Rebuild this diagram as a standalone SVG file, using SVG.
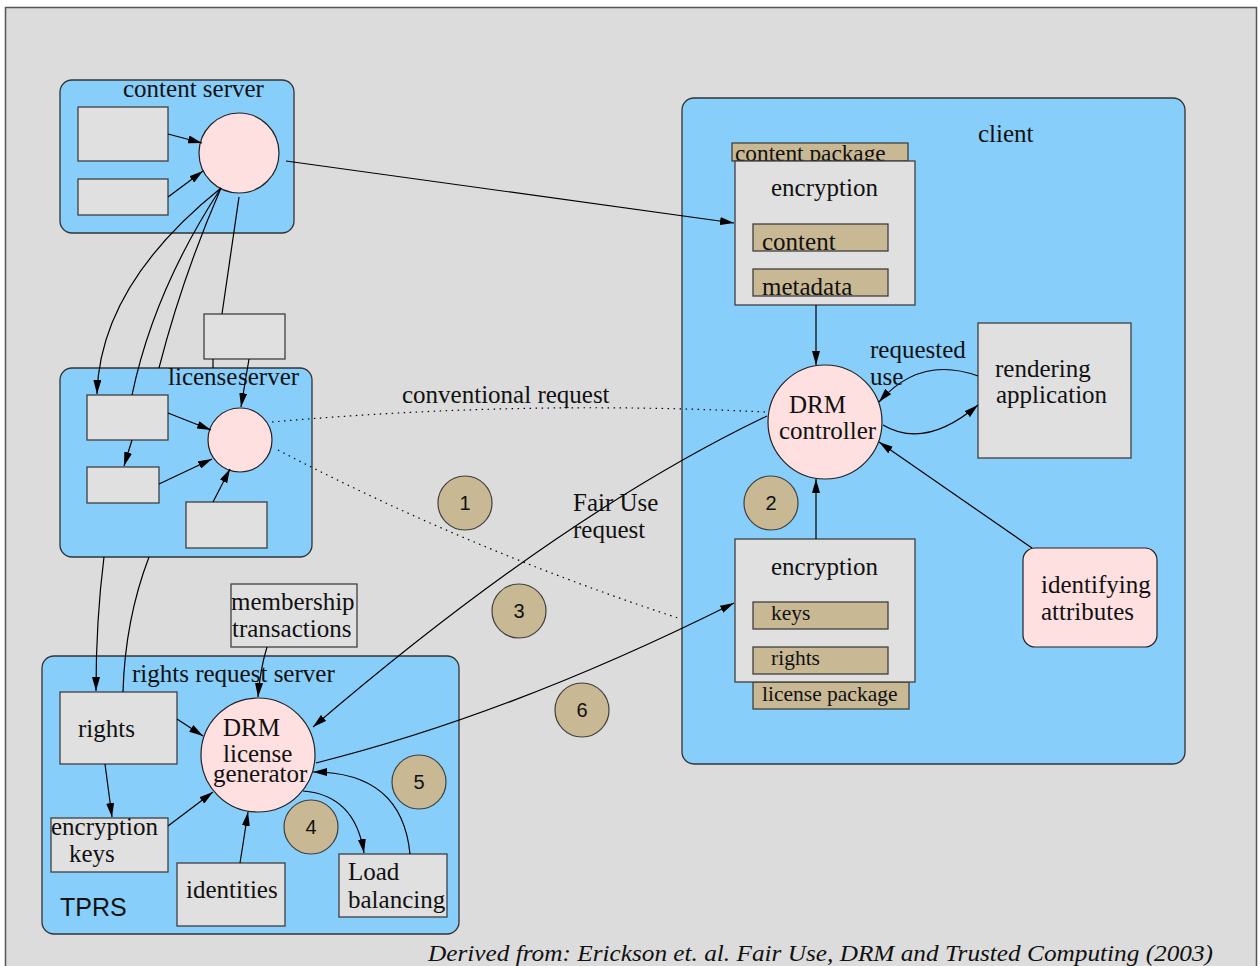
<svg xmlns="http://www.w3.org/2000/svg" width="1259" height="966" viewBox="0 0 1259 966">
  <defs>
    <marker id="ah" viewBox="0 0 14 8" refX="14" refY="4" markerWidth="14" markerHeight="8" orient="auto" markerUnits="userSpaceOnUse">
      <path d="M0,0 L14,4 L0,8 z" fill="#000"/>
    </marker>
    <style>
      .frame { fill: #dcdcdc; stroke: #555; stroke-width: 1.5; }
      .group { fill: #87cefa; stroke: #333; stroke-width: 1.3; }
      .box { fill: #e0e0e0; stroke: #404040; stroke-width: 1.3; }
      .tan { fill: #c8b894; stroke: #404040; stroke-width: 1.3; }
      .proc { fill: #ffe0e0; stroke: #222; stroke-width: 1.2; }
      .step { fill: #c8b894; stroke: #404040; stroke-width: 1.2; }
      .t { font-family: "Liberation Serif", serif; font-size: 25px; fill: #111; }
      .ts { font-family: "Liberation Serif", serif; font-size: 21.5px; fill: #111; }
      .n { font-family: "Liberation Sans", sans-serif; font-size: 20px; fill: #111; text-anchor: middle; }
      .sans { font-family: "Liberation Sans", sans-serif; font-size: 25px; fill: #111; }
      .c { fill: none; stroke: #000; stroke-width: 1.2; }
      .arr { marker-end: url(#ah); }
      .dot { fill: none; stroke: #000; stroke-width: 1.2; stroke-dasharray: 1.5 4.5; }
    </style>
  </defs>

  <rect width="1259" height="966" fill="#fff"/>
  <rect class="frame" x="5.5" y="7.5" width="1251" height="970"/>

  <!-- content server -->
  <g id="content-server">
    <rect class="group" x="60" y="80" width="234" height="153" rx="12"/>
    <text class="t" x="123" y="97">content server</text>
    <rect class="box" x="78" y="107" width="90" height="54"/>
    <rect class="box" x="78" y="179" width="90" height="36"/>
    <circle class="proc" cx="239" cy="153" r="40"/>
  </g>

  <!-- license server -->
  <g id="license-server">
    <rect class="box" x="204" y="314" width="81" height="45"/>
    <rect class="group" x="60" y="368" width="252" height="189" rx="12"/>
    <text class="t" x="168" y="385">license</text>
    <text class="t" x="238" y="385">server</text>
    <rect class="box" x="87" y="395" width="81" height="45"/>
    <rect class="box" x="87" y="467" width="72" height="36"/>
    <rect class="box" x="186" y="502" width="81" height="46"/>
    <circle class="proc" cx="240" cy="440" r="32"/>
  </g>

  <!-- rights request server (TPRS) -->
  <g id="tprs">
    <rect class="box" x="231" y="584" width="126" height="63"/>
    <text class="t" x="231" y="610">membership</text>
    <text class="t" x="232" y="637">transactions</text>
    <rect class="group" x="42" y="656" width="417" height="278" rx="12"/>
    <text class="t" x="132" y="682">rights request server</text>
    <rect class="box" x="60" y="692" width="117" height="72"/>
    <text class="t" x="78" y="737">rights</text>
    <rect class="box" x="51" y="818" width="117" height="54"/>
    <text class="t" x="51" y="835">encryption</text>
    <text class="t" x="69" y="862">keys</text>
    <rect class="box" x="177" y="863" width="108" height="63"/>
    <text class="t" x="186" y="898">identities</text>
    <rect class="box" x="339" y="854" width="108" height="63"/>
    <text class="t" x="348" y="880">Load</text>
    <text class="t" x="348" y="908">balancing</text>
    <circle class="proc" cx="258" cy="755" r="57"/>
    <text class="t" x="223" y="736">DRM</text>
    <text class="t" x="223" y="762">license</text>
    <text class="t" x="213" y="782">generator</text>
    <text class="sans" x="60" y="916">TPRS</text>
  </g>

  <!-- client -->
  <g id="client">
    <rect class="group" x="682" y="98" width="503" height="666" rx="12"/>
    <text class="t" x="978" y="142">client</text>

    <g id="content-package">
      <rect class="tan" x="732" y="143" width="176" height="18"/>
      <text class="t" x="735" y="161" style="font-size:23.3px">content package</text>
      <rect class="box" x="735" y="161" width="180" height="144"/>
      <text class="t" x="771" y="196">encryption</text>
      <rect class="tan" x="753" y="224" width="135" height="27"/>
      <text class="t" x="762" y="250">content</text>
      <rect class="tan" x="753" y="269" width="135" height="27"/>
      <text class="t" x="762" y="295">metadata</text>
    </g>

    <g id="drm-controller">
      <circle class="proc" cx="825" cy="422" r="57"/>
      <text class="t" x="789" y="413">DRM</text>
      <text class="t" x="779" y="439">controller</text>
    </g>

    <g id="rendering-application">
      <rect class="box" x="978" y="323" width="153" height="135"/>
      <text class="t" x="995" y="377">rendering</text>
      <text class="t" x="996" y="403">application</text>
    </g>

    <g id="identifying-attributes">
      <rect class="proc" x="1023" y="548" width="134" height="99" rx="12"/>
      <text class="t" x="1041" y="593">identifying</text>
      <text class="t" x="1041" y="620">attributes</text>
    </g>

    <g id="license-package">
      <rect class="tan" x="753" y="682" width="156" height="27"/>
      <text class="ts" x="762" y="701">license package</text>
      <rect class="box" x="735" y="539" width="180" height="143"/>
      <text class="t" x="771" y="575">encryption</text>
      <rect class="tan" x="753" y="602" width="135" height="27"/>
      <text class="ts" x="771" y="620">keys</text>
      <rect class="tan" x="753" y="647" width="135" height="27"/>
      <text class="ts" x="771" y="665">rights</text>
    </g>
  </g>

  <!-- connectors -->
  <g id="connectors">
    <!-- content server -->
    <line class="c arr" x1="168" y1="134" x2="202" y2="143"/>
    <line class="c arr" x1="168" y1="197" x2="203" y2="171"/>
    <line class="c arr" x1="286" y1="161" x2="734" y2="223"/>
    <path class="c arr" d="M221,188 Q100,285 97,394"/>
    <path class="c" d="M221,188 Q154,290 132,395"/>
    <path class="c" d="M221,188 Q182,278 159,368"/>
    <line class="c" x1="239" y1="197" x2="222" y2="314"/>

    <!-- license server -->
    <line class="c" x1="213" y1="359" x2="213" y2="368"/>
    <line class="c arr" x1="249" y1="359" x2="241" y2="407"/>
    <line class="c arr" x1="168" y1="413" x2="211" y2="430"/>
    <line class="c arr" x1="132" y1="440" x2="124" y2="466"/>
    <line class="c arr" x1="159" y1="484" x2="212" y2="459"/>
    <line class="c arr" x1="213" y1="502" x2="230" y2="469"/>
    <path class="c arr" d="M104,557 Q96,620 96,691"/>
    <path class="c" d="M149,557 Q125,620 123,692"/>

    <!-- rights request server -->
    <path class="c arr" d="M267,647 Q260,670 258,697"/>
    <line class="c arr" x1="177" y1="719" x2="203" y2="736"/>
    <line class="c arr" x1="105" y1="764" x2="112" y2="817"/>
    <line class="c arr" x1="168" y1="826" x2="213" y2="792"/>
    <line class="c arr" x1="240" y1="863" x2="248" y2="812"/>
    <path class="c arr" d="M303,791 Q355,795 364,853"/>
    <path class="c arr" d="M410,854 Q402,772 313,772"/>

    <!-- requests between servers and client -->
    <path class="dot" d="M272,422 Q520,400 765,412"/>
    <path class="dot" d="M278,450 Q468,549 678,618"/>
    <path class="c arr" d="M767,416 Q560,515 313,727"/>
    <path class="c arr" d="M316,763 Q512,714 734,603"/>

    <!-- client -->
    <line class="c arr" x1="816" y1="305" x2="816" y2="365"/>
    <line class="c arr" x1="816" y1="539" x2="816" y2="479"/>
    <path class="c arr" d="M978,376 Q920,355 879,402"/>
    <path class="c arr" d="M883,425 Q925,450 978,405"/>
    <line class="c arr" x1="1032" y1="548" x2="879" y2="442"/>
  </g>

  <!-- labels -->
  <g id="labels">
    <text class="t" x="402" y="403">conventional request</text>
    <text class="t" x="573" y="511">Fair Use</text>
    <text class="t" x="573" y="538">request</text>
    <text class="t" x="870" y="358">requested</text>
    <text class="t" x="870" y="385">use</text>
  </g>

  <!-- step markers -->
  <g id="steps">
    <circle class="step" cx="465" cy="503" r="27"/><text class="n" x="465" y="510">1</text>
    <circle class="step" cx="771" cy="503" r="27"/><text class="n" x="771" y="510">2</text>
    <circle class="step" cx="519" cy="611" r="27"/><text class="n" x="519" y="618">3</text>
    <circle class="step" cx="311" cy="827" r="27"/><text class="n" x="311" y="834">4</text>
    <circle class="step" cx="419" cy="782" r="27"/><text class="n" x="419" y="789">5</text>
    <circle class="step" cx="582" cy="710" r="27"/><text class="n" x="582" y="717">6</text>
  </g>

  <text x="428" y="961" textLength="785" lengthAdjust="spacingAndGlyphs" style="font-family:'Liberation Serif',serif;font-size:24px;font-style:italic;fill:#111">Derived from: Erickson et. al. Fair Use, DRM and Trusted Computing (2003)</text>
</svg>
